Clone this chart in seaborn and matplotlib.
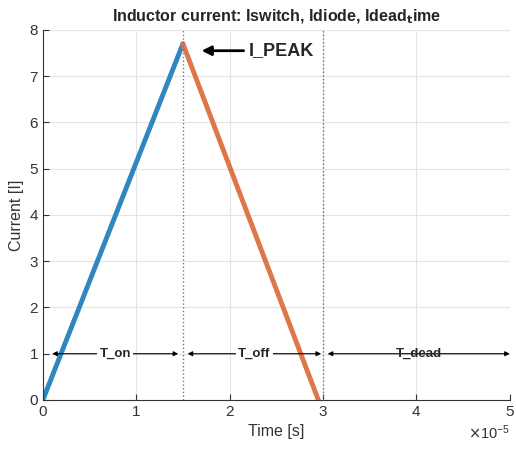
import matplotlib
matplotlib.use("Agg")
import matplotlib.pyplot as plt
import seaborn as sns
import pandas as pd

# ============================================================
# Data
# ============================================================

t_switch = [0.0, 1.5e-5]
i_switch = [0.0, 7.7]

t_diode = [1.5e-5, 2.95e-5]
i_diode = [7.7, 0.0]

boundaries = [1.5e-5, 3.0e-5]

spans = [
    ("T_on", 0.1e-5, 1.45e-5),
    ("T_off", 1.55e-5, 2.98e-5),
    ("T_dead", 3.05e-5, 5.0e-5),
]
span_level = 1.0

peak_label = "I_PEAK"
peak_y = 7.55

# ============================================================
# Theme
# ============================================================

sns.set_theme(style="whitegrid")
plt.rcParams["font.family"] = ["Liberation Sans", "DejaVu Sans"]

fig = plt.figure(figsize=(5.16, 4.53), dpi=100)
ax = fig.add_axes([0.083, 0.117, 0.905, 0.817])

switch_df = pd.DataFrame({"t": t_switch, "i": i_switch})
diode_df = pd.DataFrame({"t": t_diode, "i": i_diode})

sns.lineplot(data=switch_df, x="t", y="i", ax=ax, color="#2f86c0", linewidth=3.5)
sns.lineplot(data=diode_df, x="t", y="i", ax=ax, color="#df7649", linewidth=3.5)

for b in boundaries:
    ax.axvline(b, color="#777777", linestyle=":", linewidth=1)

# ============================================================
# Interval arrows
# ============================================================

for label, x0, x1 in spans:
    ax.annotate(
        "",
        xy=(x0, span_level),
        xytext=(x1, span_level),
        arrowprops=dict(arrowstyle="<|-|>", color="black", lw=0.8,
                        mutation_scale=7, shrinkA=0, shrinkB=0),
    )
    ax.text(
        (x0 + x1) / 2,
        span_level,
        label,
        ha="center",
        va="center",
        fontsize=9.5,
        fontweight="bold",
        bbox=dict(facecolor="white", edgecolor="none", pad=1.5)
        if label != "T_dead" else None,
    )

ax.annotate(
    "",
    xy=(1.7e-5, peak_y),
    xytext=(2.15e-5, peak_y),
    arrowprops=dict(arrowstyle="-|>", color="black", lw=2, mutation_scale=14,
                    shrinkA=0, shrinkB=0),
)
ax.text(2.2e-5, peak_y, peak_label, ha="left", va="center",
        fontsize=13, fontweight="bold")

# ============================================================
# Axes styling
# ============================================================

ax.set_xlim(0, 5e-5)
ax.set_ylim(0, 8)
ax.set_xticks([0, 1e-5, 2e-5, 3e-5, 4e-5, 5e-5])
ax.set_yticks(range(0, 9))
ax.ticklabel_format(axis="x", style="sci", scilimits=(0, 0), useMathText=True)
ax.xaxis.get_offset_text().set_fontsize(10.5)
ax.xaxis.get_offset_text().set_color("#333333")

ax.grid(True, color="#e4e4e4", linewidth=0.8)
for side in ["top", "right"]:
    ax.spines[side].set_visible(False)
for side in ["left", "bottom"]:
    ax.spines[side].set_color("#333333")
    ax.spines[side].set_linewidth(0.8)

ax.tick_params(axis="both", labelsize=11, colors="#333333", direction="in",
               length=4, width=0.8, left=True, bottom=True)

ax.set_xlabel("Time [s]", fontsize=11.5, color="#333333", labelpad=4)
ax.set_ylabel("Current [I]", fontsize=11.5, color="#333333", labelpad=4)
ax.set_title(r"Inductor current: Iswitch, Idiode, Idead$_\mathbf{t}$ime",
             fontsize=11.5, fontweight="bold", pad=6)

fig.savefig("out.png", dpi=100)
